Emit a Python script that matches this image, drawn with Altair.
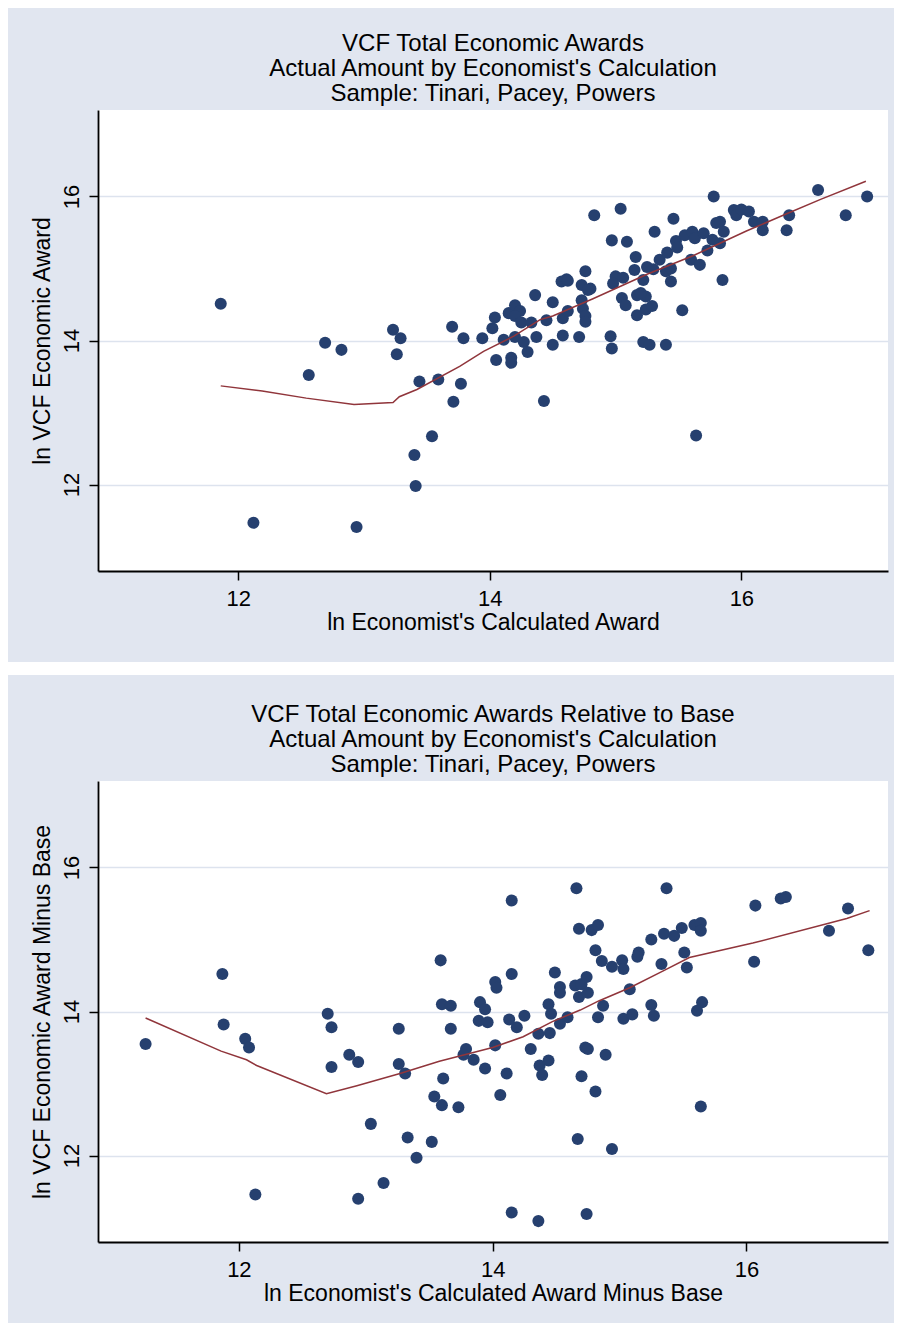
import altair as alt
import pandas as pd

NAVY = "#26406F"
MAROON = "#90353B"
BG = "#E1E6F0"
GRID = "#DDE3EE"
FONT = "Liberation Sans"

# ---------------- Panel 1 data ----------------
p1_x = [11.86, 12.12, 12.94, 12.69, 12.82, 12.56, 13.23, 13.29, 13.26, 13.44,
        13.59, 13.77, 13.71, 13.54, 13.40, 13.41, 13.70, 13.79, 13.94, 14.02,
        14.04, 14.11, 14.05, 14.17, 14.17, 14.15, 14.20, 14.24, 14.20, 14.25,
        14.33, 14.20, 14.27, 14.30, 14.36, 14.37, 14.43, 14.50, 14.45, 14.50,
        14.58, 14.62, 14.58, 14.57, 14.61, 14.71, 14.73, 14.76, 14.80, 14.73,
        14.74, 14.76, 14.76, 14.83, 14.96, 14.97, 14.97, 15.04, 15.09, 15.00,
        14.98, 15.06, 15.05, 15.08, 15.16, 15.15, 15.22, 15.17, 15.24, 15.17,
        15.24, 15.29, 15.22, 15.27, 15.40, 15.25, 15.30, 15.31, 15.46, 15.35,
        15.41, 15.40, 15.44, 15.44, 15.48, 15.49, 15.55, 15.61, 15.63, 15.60,
        15.67, 15.70, 15.73, 15.77, 15.83, 15.53, 15.64, 15.78, 15.80, 15.83,
        15.86, 15.94, 15.96, 16.00, 16.06, 16.10, 16.17, 16.17, 16.38, 16.36,
        16.61, 16.83, 17.00, 15.85, 14.78, 14.62, 15.20]
p1_y = [14.51, 11.47, 11.41, 13.97, 13.87, 13.52, 14.15, 14.03, 13.81, 13.43,
        13.46, 13.40, 13.15, 12.67, 12.41, 11.98, 14.19, 14.03, 14.03, 14.17,
        14.32, 14.01, 13.73, 13.76, 13.69, 14.38, 14.49, 14.41, 14.34, 14.25,
        14.25, 14.05, 13.98, 13.84, 14.63, 14.05, 13.16, 14.53, 14.28, 13.94,
        14.31, 14.41, 14.07, 14.82, 14.85, 14.05, 14.77, 14.96, 14.72, 14.56,
        14.44, 14.34, 14.26, 15.74, 14.06, 13.89, 15.39, 15.83, 15.37, 14.89,
        14.79, 14.87, 14.59, 14.49, 15.16, 14.98, 14.84, 14.63, 14.61, 14.35,
        14.43, 14.48, 13.98, 13.94, 13.94, 15.02, 14.99, 15.51, 15.69, 15.12,
        15.22, 14.96, 15.00, 14.82, 15.38, 15.29, 15.46, 15.51, 15.42, 15.12,
        15.05, 15.49, 15.25, 15.40, 15.35, 14.42, 12.68, 16.00, 15.63, 15.65,
        15.51, 15.81, 15.74, 15.82, 15.79, 15.65, 15.65, 15.53, 15.74, 15.53,
        16.09, 15.74, 16.00, 14.84, 14.70, 14.83, 14.66]

l1_x = [11.86, 12.19, 12.54, 12.92, 13.23, 13.28, 13.42, 13.76, 13.95, 14.19,
        14.40, 14.50, 14.82, 15.25, 15.62, 16.04, 16.36, 16.63, 16.99]
l1_y = [13.37, 13.30, 13.20, 13.11, 13.14, 13.22, 13.32, 13.64, 13.85, 14.06,
        14.29, 14.34, 14.58, 14.92, 15.18, 15.52, 15.76, 15.96, 16.21]

# ---------------- Panel 2 data ----------------
p2_x = [11.265, 11.87, 11.88, 12.05, 12.08, 12.13, 12.70, 12.73, 12.73, 12.87,
        12.94, 13.04, 13.14, 12.94, 13.26, 13.26, 13.31, 13.33, 13.40, 13.52,
        13.54, 13.60, 13.73, 13.61, 13.59, 13.60, 13.67, 13.67, 13.79, 13.77,
        13.85, 13.94, 13.90, 13.94, 13.89, 13.96, 14.02, 14.03, 14.15, 14.15,
        14.02, 14.06, 14.11, 14.13, 14.19, 14.25, 14.15, 14.36, 14.30, 14.36,
        14.37, 14.39, 14.44, 14.44, 14.46, 14.45, 14.49, 14.53, 14.53, 14.53,
        14.59, 14.66, 14.68, 14.78, 14.83, 14.81, 14.86, 14.94, 15.02, 15.03,
        14.65, 14.70, 14.74, 14.68, 14.75, 14.87, 14.83, 15.03, 14.73, 14.75,
        14.89, 14.70, 14.81, 14.67, 14.94, 14.74, 15.08, 15.37, 16.07, 16.27,
        16.31, 16.80, 16.65, 16.96, 16.06, 15.25, 15.35, 15.43, 15.49, 15.59,
        15.64, 15.64, 15.15, 15.14, 15.51, 15.33, 15.53, 15.25, 15.27, 15.10,
        15.65, 15.61, 15.64]
p2_y = [13.55, 14.52, 13.82, 13.62, 13.50, 11.46, 13.97, 13.78, 13.23, 13.40,
        13.30, 12.44, 11.62, 11.40, 13.76, 13.27, 13.14, 12.25, 11.97, 12.19,
        12.82, 12.70, 12.67, 13.07, 14.71, 14.10, 14.08, 13.76, 13.48, 13.40,
        13.33, 13.21, 14.13, 14.03, 13.87, 13.85, 14.41, 14.33, 14.52, 15.54,
        13.53, 12.84, 13.14, 13.89, 13.78, 13.94, 11.21, 11.09, 13.48, 13.69,
        13.25, 13.12, 13.32, 14.10, 13.97, 13.70, 14.54, 14.34, 14.26, 13.83,
        13.92, 15.71, 15.15, 15.13, 15.20, 14.85, 14.70, 14.62, 14.71, 14.59,
        14.36, 14.38, 14.48, 14.20, 14.26, 14.08, 13.92, 13.90, 13.50, 13.48,
        13.40, 13.10, 12.89, 12.23, 12.09, 11.19, 14.31, 15.71, 15.47, 15.57,
        15.59, 15.43, 15.12, 14.85, 14.69, 15.00, 15.08, 15.05, 15.16, 15.20,
        15.23, 15.12, 14.82, 14.76, 14.82, 14.66, 14.61, 14.09, 13.94, 13.96,
        14.13, 14.01, 12.68]

l2_x = [11.265, 11.86, 12.06, 12.14, 12.69, 12.93, 13.11, 13.27, 13.58, 14.00,
        14.24, 14.47, 14.69, 14.84, 15.08, 15.34, 15.55, 16.05, 16.79, 16.97]
l2_y = [13.91, 13.45, 13.33, 13.25, 12.86, 12.97, 13.06, 13.14, 13.31, 13.50,
        13.65, 13.86, 14.02, 14.15, 14.33, 14.56, 14.75, 14.95, 15.29, 15.40]

ticks = [12, 14, 16]

titles1 = ["VCF Total Economic Awards",
           "Actual Amount by Economist's Calculation",
           "Sample: Tinari, Pacey, Powers"]
titles2 = ["VCF Total Economic Awards Relative to Base",
           "Actual Amount by Economist's Calculation",
           "Sample: Tinari, Pacey, Powers"]

W, H = 790, 461


def panel(px, py, lx, ly, title_lines, xtitle, ytitle, xdom, ydom, strip=False):
    pts = pd.DataFrame({"x": px, "y": py})
    ln = pd.DataFrame({"x": lx, "y": ly})
    xs = alt.Scale(domain=xdom, nice=False, zero=False)
    ys = alt.Scale(domain=ydom, nice=False, zero=False)
    xax = alt.Axis(values=ticks, format="d", title=xtitle, grid=False,
                   labelPadding=8, titlePadding=2)
    yax = alt.Axis(values=ticks, format="d", title=ytitle, grid=True,
                   labelAngle=270, labelAlign="center",
                   labelBaseline="alphabetic", labelPadding=11, titlePadding=6)
    points = alt.Chart(pts).mark_circle(size=145, color=NAVY, opacity=1).encode(
        x=alt.X("x:Q", scale=xs, axis=xax),
        y=alt.Y("y:Q", scale=ys, axis=yax),
    )
    line = alt.Chart(ln).mark_line(color=MAROON, strokeWidth=1.5).encode(
        x=alt.X("x:Q", scale=xs),
        y=alt.Y("y:Q", scale=ys),
    )
    layers = [points, line]
    if strip:
        sep = alt.Chart(pd.DataFrame({"k": [0]})).mark_rect(
            color="white", clip=False).encode(
            x=alt.value(-90), x2=alt.value(W + 6),
            y=alt.value(552), y2=alt.value(565))
        layers.append(sep)
    return alt.layer(*layers).properties(
        width=W, height=H,
        title=alt.TitleParams(text=title_lines, fontSize=24, lineHeight=25,
                              font=FONT, fontWeight="normal", color="black",
                              anchor="middle", frame="group", offset=4),
    )


c1 = panel(p1_x, p1_y, l1_x, l1_y, titles1, "ln Economist's Calculated Award",
           "ln VCF Economic Award", [10.884, 17.166], [10.8, 17.2], strip=True)
c2 = panel(p2_x, p2_y, l2_x, l2_y, titles2,
           "ln Economist's Calculated Award Minus Base",
           "ln VCF Economic Award Minus Base", [10.89, 17.115], [10.8, 17.2])

chart = alt.vconcat(c1, c2, spacing=28).properties(
    padding={"left": 0, "right": 0, "top": 24, "bottom": 18}
).configure(background=BG).configure_view(
    stroke=None, fill="white"
).configure_axis(
    domainColor="black", domainWidth=1.8, tickColor="black", tickWidth=1.5,
    tickSize=9, labelFont=FONT, labelFontSize=22, labelColor="black",
    titleFont=FONT, titleFontSize=23, titleFontWeight="normal",
    titleColor="black", gridColor=GRID, gridWidth=1.5,
)

chart.save("out.html", embed_options={"renderer": "svg", "actions": False})
